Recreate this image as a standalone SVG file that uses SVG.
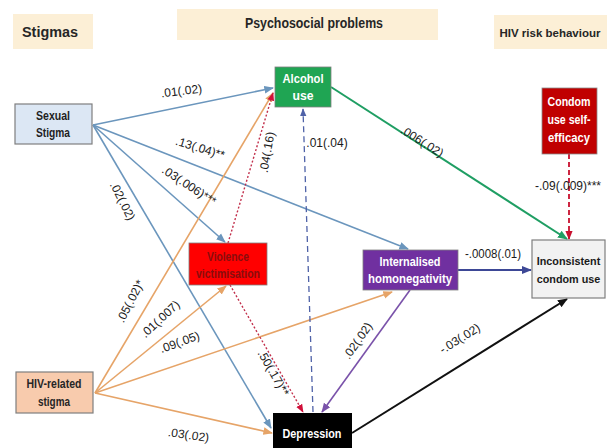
<svg xmlns="http://www.w3.org/2000/svg" width="607" height="448" viewBox="0 0 607 448">
  <style>
    .hdr { fill: #fcefd6; }
    .htxt { font-family: "Liberation Sans", Arial, sans-serif; font-weight: bold; font-size: 14px; fill: #262626; text-anchor: middle; }
    .ntxt { font-family: "Liberation Sans", Arial, sans-serif; font-weight: bold; font-size: 12.5px; text-anchor: middle; }
    .lbl { font-family: "Liberation Sans", Arial, sans-serif; font-size: 12px; fill: #1a1a1a; text-anchor: middle; }
    .c { fill: none; stroke-width: 1.6; }
    .blue { stroke: #6b96bd; }
    .orange { stroke: #e6a468; }
    .green { stroke: #1f9e63; stroke-width: 2; }
    .reddot { stroke: #c2304c; stroke-dasharray: 2 2; stroke-width: 1.4; }
    .navydash { stroke: #4f62a8; stroke-dasharray: 6 4; stroke-width: 1.3; }
    .purple { stroke: #7a52aa; }
    .navy { stroke: #3d4896; stroke-width: 2; }
    .black { stroke: #111; stroke-width: 2; }
    .crimdash { stroke: #c8102e; stroke-dasharray: 5 3; stroke-width: 1.8; }
  </style>
  <defs>
    <marker id="aBlue" viewBox="0 0 10 10" refX="9" refY="5" markerWidth="6" markerHeight="6" orient="auto"><path d="M0,1 L10,5 L0,9 z" fill="#6b96bd"/></marker>
    <marker id="aOrange" viewBox="0 0 10 10" refX="9" refY="5" markerWidth="6" markerHeight="6" orient="auto"><path d="M0,1 L10,5 L0,9 z" fill="#e6a468"/></marker>
    <marker id="aGreen" viewBox="0 0 10 10" refX="9" refY="5" markerWidth="5" markerHeight="5" orient="auto"><path d="M0,1 L10,5 L0,9 z" fill="#1f9e63"/></marker>
    <marker id="aRed" viewBox="0 0 10 10" refX="9" refY="5" markerWidth="6" markerHeight="6" orient="auto"><path d="M0,1 L10,5 L0,9 z" fill="#d0103a"/></marker>
    <marker id="aNavyDash" viewBox="0 0 10 10" refX="9" refY="5" markerWidth="6" markerHeight="6" orient="auto"><path d="M0,1 L10,5 L0,9 z" fill="#4f62a8"/></marker>
    <marker id="aPurple" viewBox="0 0 10 10" refX="9" refY="5" markerWidth="6" markerHeight="6" orient="auto"><path d="M0,1 L10,5 L0,9 z" fill="#7a52aa"/></marker>
    <marker id="aNavy" viewBox="0 0 10 10" refX="9" refY="5" markerWidth="5" markerHeight="5" orient="auto"><path d="M0,1 L10,5 L0,9 z" fill="#3d4896"/></marker>
    <marker id="aBlack" viewBox="0 0 10 10" refX="9" refY="5" markerWidth="5" markerHeight="5" orient="auto"><path d="M0,1 L10,5 L0,9 z" fill="#111"/></marker>
    <marker id="aCrim" viewBox="0 0 10 10" refX="9" refY="5" markerWidth="5" markerHeight="5" orient="auto"><path d="M0,1 L10,5 L0,9 z" fill="#c8102e"/></marker>
  </defs>

  <rect width="607" height="448" fill="#ffffff"/>

  <!-- column headings -->
  <g id="heading-stigmas">
    <rect class="hdr" x="13" y="14" width="80" height="35"/>
    <text class="htxt" x="50" y="37" textLength="56" lengthAdjust="spacingAndGlyphs">Stigmas</text>
  </g>
  <g id="heading-psychosocial">
    <rect class="hdr" x="177" y="9" width="261" height="31"/>
    <text class="htxt" x="314" y="28" textLength="138" lengthAdjust="spacingAndGlyphs">Psychosocial problems</text>
  </g>
  <g id="heading-hiv-risk">
    <rect class="hdr" x="494" y="15" width="113" height="34"/>
    <text class="htxt" x="550" y="37" style="font-size:11.5px">HIV risk behaviour</text>
  </g>

  <!-- paths between the variables -->
  <g id="connectors">
    <!-- from sexual stigma -->
    <line class="c blue" x1="93" y1="125" x2="273" y2="88" marker-end="url(#aBlue)"/>
    <line class="c blue" x1="93" y1="125" x2="408" y2="249" marker-end="url(#aBlue)"/>
    <line class="c blue" x1="93" y1="125" x2="225" y2="242" marker-end="url(#aBlue)"/>
    <line class="c blue" x1="93" y1="125" x2="271" y2="428" marker-end="url(#aBlue)"/>
    <!-- from HIV-related stigma -->
    <line class="c orange" x1="95" y1="393" x2="273" y2="93" marker-end="url(#aOrange)"/>
    <line class="c orange" x1="95" y1="393" x2="226" y2="286" marker-end="url(#aOrange)"/>
    <line class="c orange" x1="95" y1="393" x2="392" y2="292" marker-end="url(#aOrange)"/>
    <line class="c orange" x1="95" y1="393" x2="272" y2="433" marker-end="url(#aOrange)"/>
    <!-- psychosocial paths -->
    <line class="c green" x1="331" y1="87" x2="567" y2="239" marker-end="url(#aGreen)"/>
    <line class="c reddot" x1="228" y1="243" x2="273" y2="93" marker-end="url(#aRed)"/>
    <line class="c reddot" x1="230" y1="285" x2="303" y2="412" marker-end="url(#aRed)"/>
    <line class="c navydash" x1="313" y1="412" x2="303" y2="109" marker-end="url(#aNavyDash)"/>
    <line class="c purple" x1="410" y1="290" x2="322" y2="412" marker-end="url(#aPurple)"/>
    <line class="c navy" x1="458" y1="270" x2="531" y2="270" marker-end="url(#aNavy)"/>
    <line class="c black" x1="352" y1="433" x2="567" y2="299" marker-end="url(#aBlack)"/>
    <line class="c crimdash" x1="569" y1="154" x2="569" y2="239" marker-end="url(#aCrim)"/>

    <!-- path coefficients -->
    <text class="lbl" transform="translate(182,95) rotate(-7)">.01(.02)</text>
    <text class="lbl" transform="translate(199,152) rotate(17)">.13(.04)**</text>
    <text class="lbl" transform="translate(187,189) rotate(33)">.03(.006)***</text>
    <text class="lbl" transform="translate(119,203) rotate(63)">.02(.02)</text>
    <text class="lbl" transform="translate(134,303) rotate(-63)">.05(.02)*</text>
    <text class="lbl" transform="translate(163,322) rotate(-43)">.01(.007)</text>
    <text class="lbl" transform="translate(181,346) rotate(-20)">.09(.05)</text>
    <text class="lbl" transform="translate(188,439) rotate(8)">.03(.02)</text>
    <text class="lbl" transform="translate(271,153) rotate(-80)">.04(.16)</text>
    <text class="lbl" x="327" y="147">.01(.04)</text>
    <text class="lbl" transform="translate(420,145) rotate(32)">.006(.02)</text>
    <text class="lbl" x="568" y="190">-.09(.009)***</text>
    <text class="lbl" x="493" y="258" textLength="56" lengthAdjust="spacingAndGlyphs">-.0008(.01)</text>
    <text class="lbl" transform="translate(270,375) rotate(60)">.50(.17)**</text>
    <text class="lbl" transform="translate(361,343) rotate(-55)">.02(.02)</text>
    <text class="lbl" transform="translate(462,342) rotate(-32)">-.03(.02)</text>
  </g>

  <!-- variables -->
  <g id="node-sexual-stigma">
    <rect x="15" y="104" width="77" height="40" fill="#dce7f4" stroke="#7f7f7f" stroke-width="1.2"/>
    <text class="ntxt" x="53" y="120" fill="#1f1f1f" textLength="34" lengthAdjust="spacingAndGlyphs">Sexual</text>
    <text class="ntxt" x="53" y="137" fill="#1f1f1f" textLength="34" lengthAdjust="spacingAndGlyphs">Stigma</text>
  </g>
  <g id="node-alcohol-use">
    <rect x="275" y="67" width="56" height="40" fill="#1fa553" stroke="#7f7f7f" stroke-width="0.8"/>
    <text class="ntxt" x="303" y="83" fill="#ffffff" textLength="41" lengthAdjust="spacingAndGlyphs">Alcohol</text>
    <text class="ntxt" x="303" y="100" fill="#ffffff" textLength="21" lengthAdjust="spacingAndGlyphs">use</text>
  </g>
  <g id="node-condom-self-efficacy">
    <rect x="542" y="88" width="55" height="66" fill="#c00000" stroke="#8a8a8a" stroke-width="0.8"/>
    <text class="ntxt" x="569" y="106" fill="#ffffff" textLength="43" lengthAdjust="spacingAndGlyphs">Condom</text>
    <text class="ntxt" x="569" y="124" fill="#ffffff" textLength="43" lengthAdjust="spacingAndGlyphs">use self-</text>
    <text class="ntxt" x="569" y="142" fill="#ffffff" textLength="42" lengthAdjust="spacingAndGlyphs">efficacy</text>
  </g>
  <g id="node-violence-victimisation">
    <rect x="189" y="243" width="78" height="42" fill="#ff0000" stroke="#7f7f7f" stroke-width="0.8"/>
    <text class="ntxt" x="228" y="261" fill="#8a0d0d" textLength="42" lengthAdjust="spacingAndGlyphs">Violence</text>
    <text class="ntxt" x="228" y="278" fill="#8a0d0d" textLength="64" lengthAdjust="spacingAndGlyphs">victimisation</text>
  </g>
  <g id="node-internalised-homonegativity">
    <rect x="363" y="250" width="95" height="40" fill="#7030a0" stroke="#7f7f7f" stroke-width="0.8"/>
    <text class="ntxt" x="410" y="266" fill="#ffffff" textLength="61" lengthAdjust="spacingAndGlyphs">Internalised</text>
    <text class="ntxt" x="410" y="283" fill="#ffffff" textLength="84" lengthAdjust="spacingAndGlyphs">homonegativity</text>
  </g>
  <g id="node-inconsistent-condom-use">
    <rect x="532" y="240" width="73" height="58" fill="#f2f2f2" stroke="#7f7f7f" stroke-width="1.2"/>
    <text class="ntxt" x="568.5" y="265" fill="#1a1a1a" style="font-size:10.8px">Inconsistent</text>
    <text class="ntxt" x="568.5" y="283" fill="#1a1a1a" style="font-size:10.8px">condom use</text>
  </g>
  <g id="node-hiv-related-stigma">
    <rect x="16" y="372" width="77" height="41" fill="#f8cbad" stroke="#7f7f7f" stroke-width="1.2"/>
    <text class="ntxt" x="54" y="388" fill="#262626" textLength="55" lengthAdjust="spacingAndGlyphs">HIV-related</text>
    <text class="ntxt" x="54" y="406" fill="#262626" textLength="32" lengthAdjust="spacingAndGlyphs">stigma</text>
  </g>
  <g id="node-depression">
    <rect x="273" y="413" width="79" height="40" fill="#000000"/>
    <text class="ntxt" x="312" y="438" fill="#ffffff" textLength="59" lengthAdjust="spacingAndGlyphs">Depression</text>
  </g>
</svg>
